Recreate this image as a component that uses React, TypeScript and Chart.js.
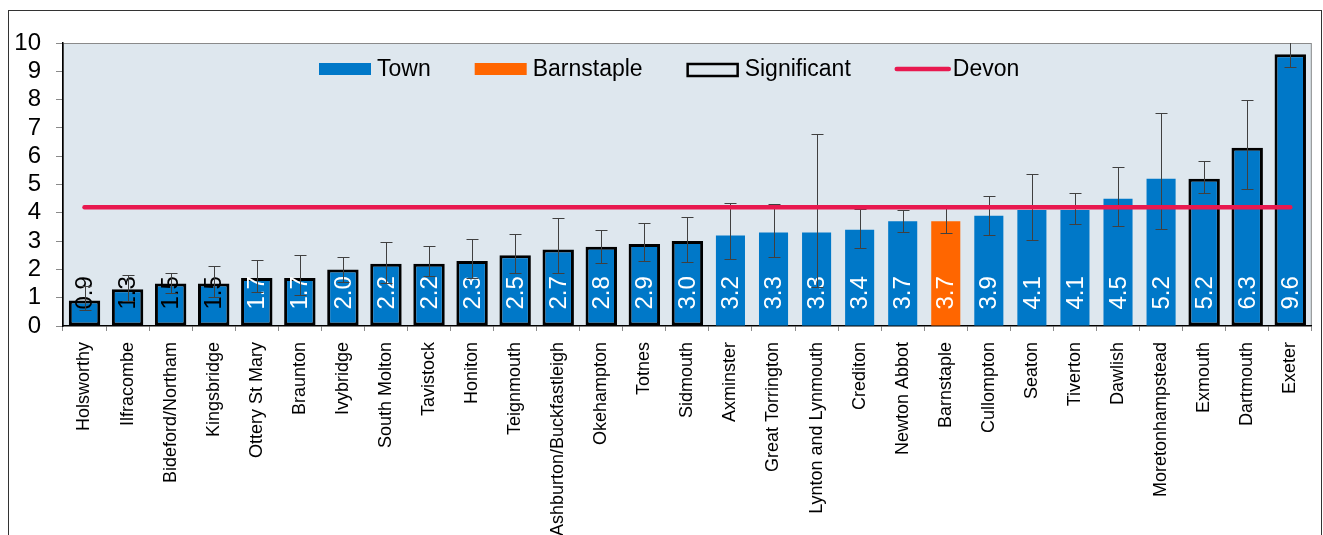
import React, { useEffect, useRef } from 'react';
import { Chart, registerables } from 'chart.js';

Chart.register(...registerables);

// ---------- data ----------
const towns = [
  'Holsworthy', 'Ilfracombe', 'Bideford/Northam', 'Kingsbridge', 'Ottery St Mary',
  'Braunton', 'Ivybridge', 'South Molton', 'Tavistock', 'Honiton', 'Teignmouth',
  'Ashburton/Buckfastleigh', 'Okehampton', 'Totnes', 'Sidmouth', 'Axminster',
  'Great Torrington', 'Lynton and Lynmouth', 'Crediton', 'Newton Abbot', 'Barnstaple',
  'Cullompton', 'Seaton', 'Tiverton', 'Dawlish', 'Moretonhampstead', 'Exmouth',
  'Dartmouth', 'Exeter',
];
const rates = [
  0.9, 1.3, 1.5, 1.5, 1.7, 1.7, 2.0, 2.2, 2.2, 2.3, 2.5, 2.7, 2.8, 2.9, 3.0,
  3.2, 3.3, 3.3, 3.4, 3.7, 3.7, 3.9, 4.1, 4.1, 4.5, 5.2, 5.2, 6.3, 9.6,
];
const errLow = [
  0.55, 0.9, 1.15, 1.04, 1.19, 1.1, 1.57, 1.51, 1.77, 1.7, 1.86, 1.88, 2.23, 2.3, 2.25,
  2.36, 2.43, 1.37, 2.77, 3.33, 3.27, 3.2, 3.04, 3.59, 3.52, 3.43, 4.69, 4.83, 9.14,
];
const errHigh = [
  1.4, 1.8, 1.86, 2.12, 2.32, 2.5, 2.43, 2.98, 2.81, 3.06, 3.24, 3.8, 3.39, 3.63, 3.84,
  4.33, 4.3, 6.77, 4.15, 4.1, 4.18, 4.59, 5.36, 4.71, 5.63, 7.54, 5.82, 7.99, 10.1,
];
const significant = [
  true, true, true, true, true, true, true, true, true, true, true, true, true, true, true,
  false, false, false, false, false, false, false, false, false, false, false, true, true, true,
];
const highlightTown = 'Barnstaple';
const devonRate = 4.2;
const yMin = 0;
const yMax = 10;
const yStep = 1;
const legendLabels = ['Town', 'Barnstaple', 'Significant', 'Devon'];

// ---------- styles ----------
const BLUE = '#0078C8';
const ORANGE = '#FF6600';
const RED = '#E8194F';
const PLOT_BG = '#DEE7EE';
const FONT = "Arial, 'Liberation Sans', Helvetica, sans-serif";

const bgPlugin = {
  id: 'plotBg',
  beforeDraw(chart: any) {
    const { ctx, chartArea: a } = chart;
    ctx.save();
    ctx.fillStyle = PLOT_BG;
    ctx.fillRect(a.left, a.top, a.right - a.left, a.bottom - a.top);
    ctx.strokeStyle = '#8a8a8a';
    ctx.lineWidth = 1;
    ctx.strokeRect(a.left + 0.5, a.top + 0.5, a.right - a.left - 1, a.bottom - a.top - 1);
    ctx.restore();
  },
};

const barExtrasPlugin = {
  id: 'barExtras',
  afterDatasetDraw(chart: any, args: any) {
    const meta = args.meta;
    if (meta.type !== 'bar') return;
    const { ctx, chartArea: a } = chart;
    const y = chart.scales.y;
    const ds = chart.data.datasets[args.index];
    ctx.save();
    ctx.beginPath();
    ctx.rect(a.left, a.top, a.right - a.left, a.bottom - a.top);
    ctx.clip();
    meta.data.forEach((bar: any, i: number) => {
      const v = ds.data[i];
      if (v == null) return;
      // data label
      const txt = Number(v).toFixed(1);
      ctx.save();
      ctx.font = `24px ${FONT}`;
      const w = ctx.measureText(txt).width;
      const startY = bar.base - 16;
      ctx.fillStyle = startY - w < bar.y - 6 ? '#000000' : '#ffffff';
      ctx.translate(bar.x + 1, startY);
      ctx.rotate(-Math.PI / 2);
      ctx.textAlign = 'left';
      ctx.textBaseline = 'middle';
      ctx.fillText(txt, 0, 0);
      ctx.restore();
      // error bar
      const yl = Math.round(y.getPixelForValue(errLow[i])) + 0.5;
      const yh = Math.round(y.getPixelForValue(errHigh[i])) + 0.5;
      const x = Math.round(bar.x) + 0.5;
      ctx.strokeStyle = '#404040';
      ctx.lineWidth = 1;
      ctx.beginPath();
      ctx.moveTo(x, yl);
      ctx.lineTo(x, yh);
      ctx.moveTo(x - 6, yl);
      ctx.lineTo(x + 6, yl);
      ctx.moveTo(x - 6, yh);
      ctx.lineTo(x + 6, yh);
      ctx.stroke();
    });
    ctx.restore();
  },
};

const legendPlugin = {
  id: 'customLegend',
  afterDraw(chart: any) {
    const { ctx, chartArea: a } = chart;
    ctx.save();
    ctx.font = `23px ${FONT}`;
    ctx.textBaseline = 'middle';
    ctx.textAlign = 'left';
    const cy = a.top + 26;
    let x = a.left + 256;
    const symW = 52;
    legendLabels.forEach((label, k) => {
      if (k === 0 || k === 1) {
        ctx.fillStyle = k === 0 ? BLUE : ORANGE;
        ctx.fillRect(x, cy - 6, symW, 12);
      } else if (k === 2) {
        ctx.strokeStyle = '#000';
        ctx.lineWidth = 2.5;
        ctx.strokeRect(x + 1, cy - 5, symW - 2, 12);
      } else {
        ctx.strokeStyle = RED;
        ctx.lineWidth = 4.5;
        ctx.lineCap = 'round';
        ctx.beginPath();
        ctx.moveTo(x + 2, cy);
        ctx.lineTo(x + symW + 2, cy);
        ctx.stroke();
      }
      ctx.fillStyle = '#000';
      const tx = x + symW + 6;
      ctx.fillText(label, tx, cy + 1);
      x = tx + ctx.measureText(label).width + 44;
    });
    ctx.restore();
  },
};

export default function App() {
  const ref = useRef<HTMLCanvasElement>(null);

  useEffect(() => {
    if (!ref.current) return;
    Chart.defaults.font.family = FONT;
    const colors = towns.map((t) => (t === highlightTown ? ORANGE : BLUE));
    const sigData = rates.map((v, i) => (significant[i] ? v : null));
    const nonSigData = rates.map((v, i) => (!significant[i] ? v : null));

    const chart = new Chart(ref.current, {
      data: {
        labels: towns,
        datasets: [
          {
            type: 'line',
            label: 'Devon',
            data: towns.map(() => devonRate),
            borderColor: RED,
            borderWidth: 4.5,
            borderCapStyle: 'round',
            pointRadius: 0,
            pointHoverRadius: 0,
            fill: false,
            order: 0,
          } as any,
          {
            type: 'bar',
            label: 'Significant',
            data: sigData,
            backgroundColor: colors,
            borderColor: '#000000',
            borderWidth: 3,
            borderSkipped: false,
            barPercentage: 0.73,
            categoryPercentage: 1,
            grouped: false,
            order: 1,
          } as any,
          {
            type: 'bar',
            label: 'Town',
            data: nonSigData,
            backgroundColor: colors,
            borderWidth: 0,
            barPercentage: 0.675,
            categoryPercentage: 1,
            grouped: false,
            order: 1,
          } as any,
        ],
      },
      options: {
        responsive: false,
        animation: false,
        events: [],
        layout: { padding: { top: 43, right: 8, left: 0, bottom: 0 } },
        plugins: {
          legend: { display: false },
          tooltip: { enabled: false },
        },
        scales: {
          x: {
            type: 'category',
            offset: true,
            grid: {
              offset: true,
              drawOnChartArea: false,
              drawTicks: true,
              tickLength: 5,
              color: '#8a8a8a',
            },
            border: { display: true, color: '#000000', width: 1.5 },
            ticks: {
              autoSkip: false,
              maxRotation: 90,
              minRotation: 90,
              padding: 11,
              color: '#000000',
              font: { size: 18, family: FONT },
            },
            afterFit(scale: any) {
              scale.height = 209;
            },
          },
          y: {
            min: yMin,
            max: yMax,
            grid: {
              drawOnChartArea: false,
              drawTicks: true,
              tickLength: 7,
              color: '#8a8a8a',
            },
            border: { display: true, color: '#000000', width: 1.5 },
            ticks: {
              stepSize: yStep,
              autoSkip: false,
              padding: 15,
              color: '#000000',
              font: { size: 24, family: FONT },
            },
            afterFit(scale: any) {
              scale.width = 63;
            },
          },
        },
      } as any,
      plugins: [bgPlugin, barExtrasPlugin, legendPlugin],
    });
    return () => chart.destroy();
  }, []);

  return (
    <div style={{ position: 'absolute', left: 0, top: 0, width: 1323, height: 535, overflow: 'hidden', background: '#fff' }}>
      <canvas ref={ref} width={1323} height={535} style={{ display: 'block' }} />
      <div
        style={{
          position: 'absolute',
          left: 8,
          top: 10,
          width: 1314,
          height: 525,
          boxSizing: 'border-box',
          borderTop: '1px solid #333',
          borderLeft: '1px solid #333',
          borderRight: '1px solid #333',
          pointerEvents: 'none',
        }}
      />
    </div>
  );
}
